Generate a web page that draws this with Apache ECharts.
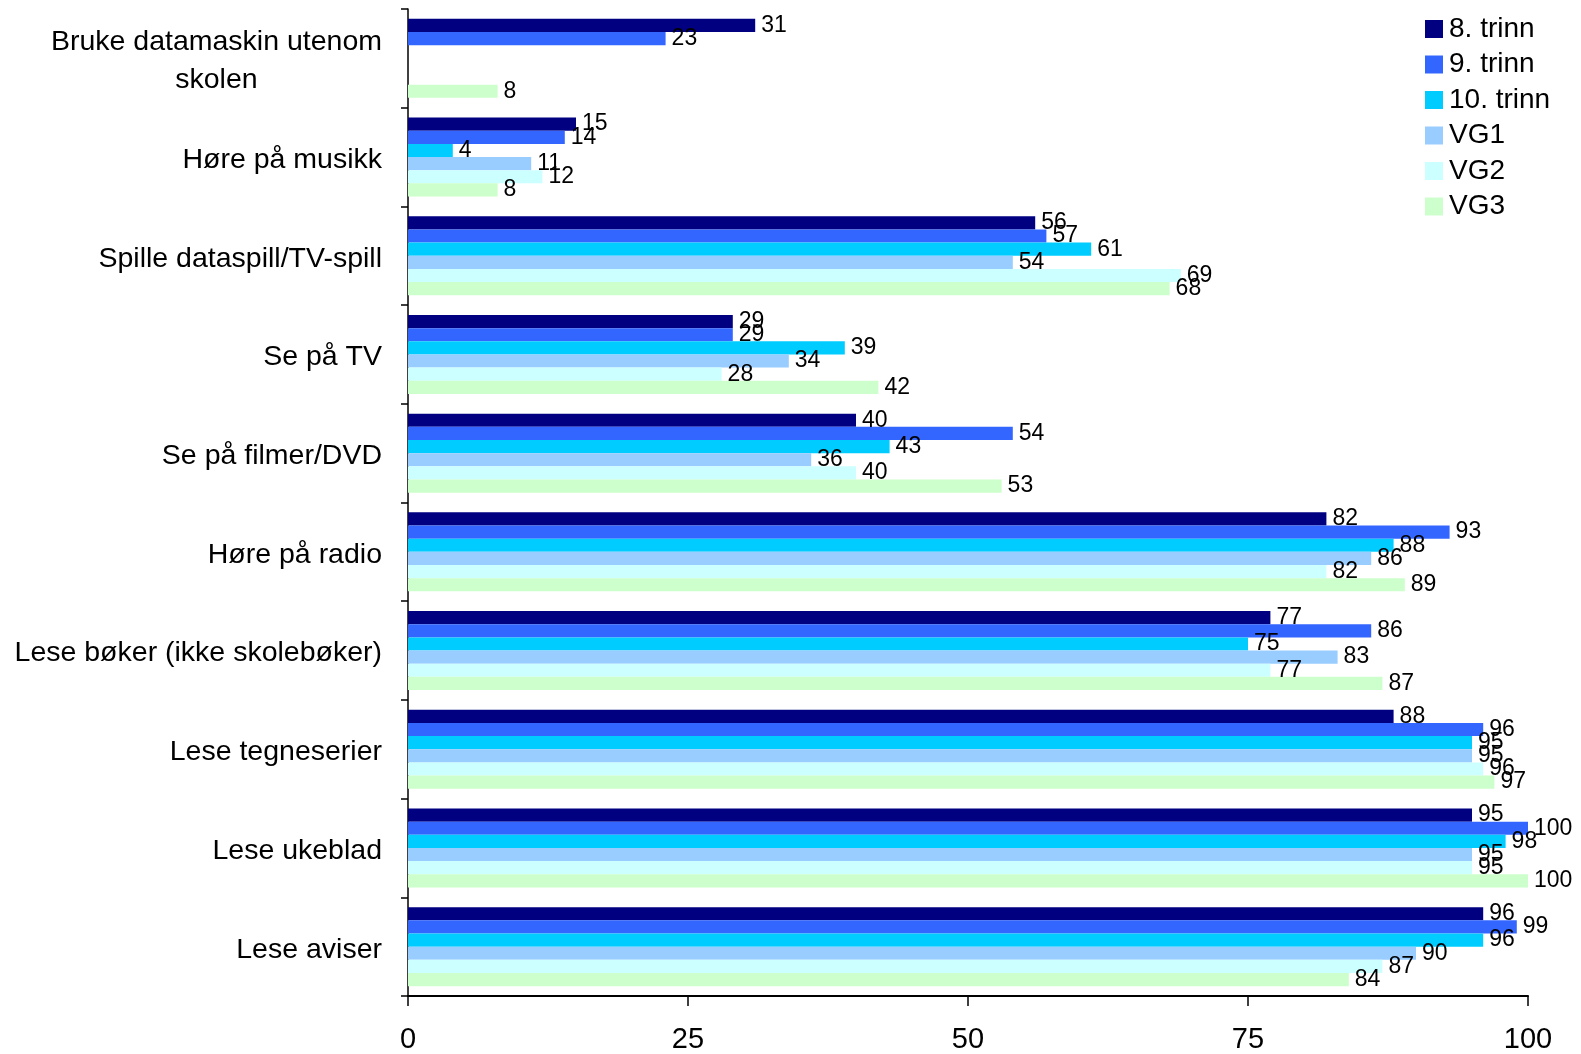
<!DOCTYPE html>
<html><head><meta charset="utf-8">
<script src="https://cdn.jsdelivr.net/npm/echarts@6/dist/echarts.min.js"></script>
<style>html,body{margin:0;padding:0;background:#fff}#c{width:1581px;height:1054px}</style>
</head><body><div id="c"></div>
<script>
const categories = ["Bruke datamaskin utenom\nskolen","Høre på musikk","Spille dataspill/TV-spill","Se på TV","Se på filmer/DVD","Høre på radio","Lese bøker (ikke skolebøker)","Lese tegneserier","Lese ukeblad","Lese aviser"];
const seriesNames = ["8. trinn","9. trinn","10. trinn","VG1","VG2","VG3"];
const colors = ["#000080","#3366FF","#00CCFF","#99CCFF","#CCFFFF","#CCFFCC"];
const trinn8  = [31,15,56,29,40,82,77,88,95,96];
const trinn9  = [23,14,57,29,54,93,86,96,100,99];
const trinn10 = [null,4,61,39,43,88,75,95,98,96];
const vg1     = [null,11,54,34,36,86,83,95,95,90];
const vg2     = [null,12,69,28,40,82,77,96,95,87];
const vg3     = [8,8,68,42,53,89,87,97,100,84];
const xTicks = [0,25,50,75,100];
const allData = [trinn8,trinn9,trinn10,vg1,vg2,vg3];
const font = "Liberation Sans, Arial, sans-serif";
const chart = echarts.init(document.getElementById('c'));
chart.setOption({
  animation:false,
  color: colors,
  grid:{left:408,right:53,top:9,bottom:56,containLabel:false},
  legend:{orient:'vertical',left:1420,top:10,itemWidth:18,itemHeight:18,itemGap:7.5,
    icon:'rect',
    textStyle:{fontFamily:font,fontSize:28,color:'#000',lineHeight:27,padding:[0,0,0,1]},
    data:seriesNames},
  xAxis:{type:'value',min:0,max:100,interval:25,
    axisLine:{show:true,lineStyle:{color:'#000',width:2}},
    axisTick:{show:true,length:10,lineStyle:{color:'#000',width:1.5}},
    splitLine:{show:false},
    axisLabel:{fontFamily:font,fontSize:29,color:'#000',margin:29,
      formatter:v=>xTicks.includes(v)?String(v):''}},
  yAxis:{type:'category',inverse:true,data:categories,
    axisLine:{show:true,lineStyle:{color:'#000',width:1.5}},
    axisTick:{show:true,length:7,lineStyle:{color:'#000',width:1.5}},
    axisLabel:{fontFamily:font,fontSize:28.5,color:'#000',margin:26,lineHeight:37,padding:[6,0,0,0],
      formatter:v=>v.split('\n').map(s=>'{c|'+s+'}').join('\n'),
      rich:{c:{align:'center',fontFamily:font,fontSize:28.5,color:'#000',lineHeight:37.5}}}},
  series: seriesNames.map((n,i)=>({
    name:n,type:'bar',data:allData[i],barGap:'0%',barCategoryGap:'20%',
    itemStyle:{color:colors[i]},
    label:{show:true,position:'right',distance:6,fontFamily:font,fontSize:23,color:'#000'}
  }))
});
</script></body></html>
